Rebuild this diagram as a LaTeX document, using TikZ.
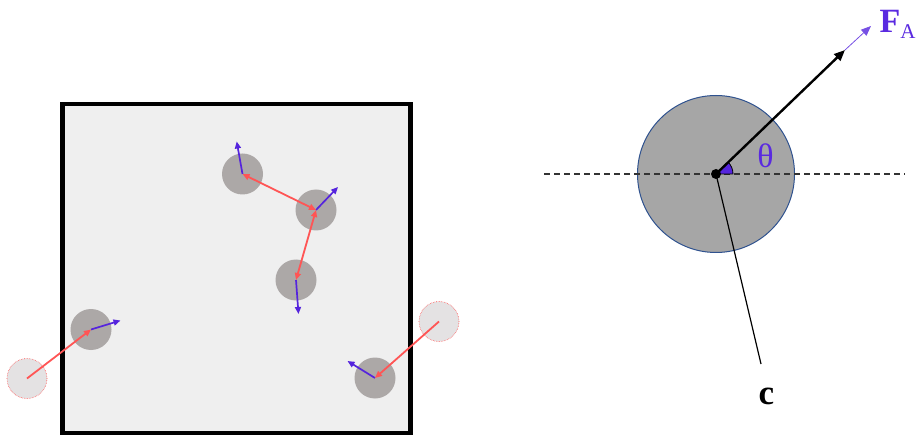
\documentclass[tikz,border=0pt]{standalone}
\usepackage{fontspec}
\setmainfont{Liberation Serif}
\usetikzlibrary{arrows.meta}
\definecolor{boxfill}{HTML}{EFEFEF}
\definecolor{partfill}{HTML}{ACA8A7}
\definecolor{ghostfill}{HTML}{E4E2E3}
\definecolor{redarr}{HTML}{FF5555}
\definecolor{bluearr}{HTML}{5524DD}
\definecolor{bigfill}{HTML}{A6A6A6}
\definecolor{bigline}{HTML}{2F528F}
\definecolor{lblpurple}{HTML}{5A2AE0}
\tikzset{
  particle/.style={circle, fill=partfill, minimum size=41pt, inner sep=0pt},
  ghost/.style={circle, fill=ghostfill, draw=redarr, densely dotted, line width=0.6pt, minimum size=40pt, inner sep=0pt},
  tip/.style={-{Triangle[length=7pt,width=6pt]}},
  dtip/.style={{Triangle[length=7pt,width=6pt]}-{Triangle[length=7pt,width=6pt]}},
  redline/.style={redarr, line width=1.8pt},
  blueline/.style={bluearr, line width=1.7pt},
}
\begin{document}
\begin{tikzpicture}[x=1pt,y=-1pt]
\useasboundingbox (0,0) rectangle (917,435);
% box
\draw[line width=4.3pt, fill=boxfill] (62.5,104) rectangle (410.5,433);
% particles
\node[particle] (p1) at (242.5,174) {};
\node[particle] (p2) at (316,210) {};
\node[particle] (p3) at (296,280) {};
\node[particle] (p4) at (91,329.5) {};
\node[particle] (p5) at (375,378) {};
\node[ghost] (g1) at (27,378.5) {};
\node[ghost] (g2) at (439,321.5) {};
% force arrows (blue)
\coordinate (b1) at (236.7,141.5);
\coordinate (b2) at (338,187);
\coordinate (b3) at (298.5,314);
\coordinate (b4) at (120.5,320.5);
\coordinate (b5) at (347.5,361);
\draw[blueline,tip] (p1.center) -- (b1);
\draw[blueline,tip] (p2.center) -- (b2);
\draw[blueline,tip] (p3.center) -- (b3);
\draw[blueline,tip] (p4.center) -- (b4);
\draw[blueline,tip] (p5.center) -- (b5);
% red links
\draw[redline,dtip] (p1.center) -- (p2.center);
\draw[redline,dtip] (p2.center) -- (p3.center);
\draw[redline,tip] (g1.center) -- (p4.center);
\draw[redline,tip] (g2.center) -- (p5.center);
% right diagram
\node[circle, fill=bigfill, draw=bigline, line width=1pt, minimum size=157pt, inner sep=0pt] (big) at (716,174) {};
\coordinate (dl) at (544,174);
\coordinate (dr) at (905,174);
\draw[dash pattern=on 6pt off 4pt, line width=1.2pt, black!80] (dl) -- (dr);
\fill[bluearr, draw=black, line width=0.8pt] (716,174) -- ++(17,0) arc[start angle=0, end angle=-44, radius=17] -- cycle;
\coordinate (ctip) at (761,364);
\draw[line width=1.2pt] (big.center) -- (ctip);
\coordinate (fa) at (845,50);
\coordinate (fb) at (871,26);
\draw[line width=2.4pt, -{Triangle[length=11pt,width=9pt]}] (big.center) -- (fa);
\draw[bluearr!80, line width=0.8pt, -{Triangle[length=10pt,width=8pt]}] (fa) -- (fb);
\node[circle, fill=black, minimum size=10pt, inner sep=0pt] (o) at (big.center) {};
\node[text=lblpurple, anchor=base west, inner sep=0pt] (flabel) at (879.5,33) {\fontsize{34}{34}\selectfont\textbf{F}\raisebox{-6pt}{\fontsize{21}{21}\selectfont A}};
\node[text=lblpurple, anchor=base, inner sep=0pt] (theta) at (765.5,168) {\fontsize{34}{34}\selectfont θ};
\node[anchor=base, inner sep=0pt] (clabel) at (766.5,404) {\fontsize{35}{35}\selectfont\textbf{c}};
\end{tikzpicture}
\end{document}
